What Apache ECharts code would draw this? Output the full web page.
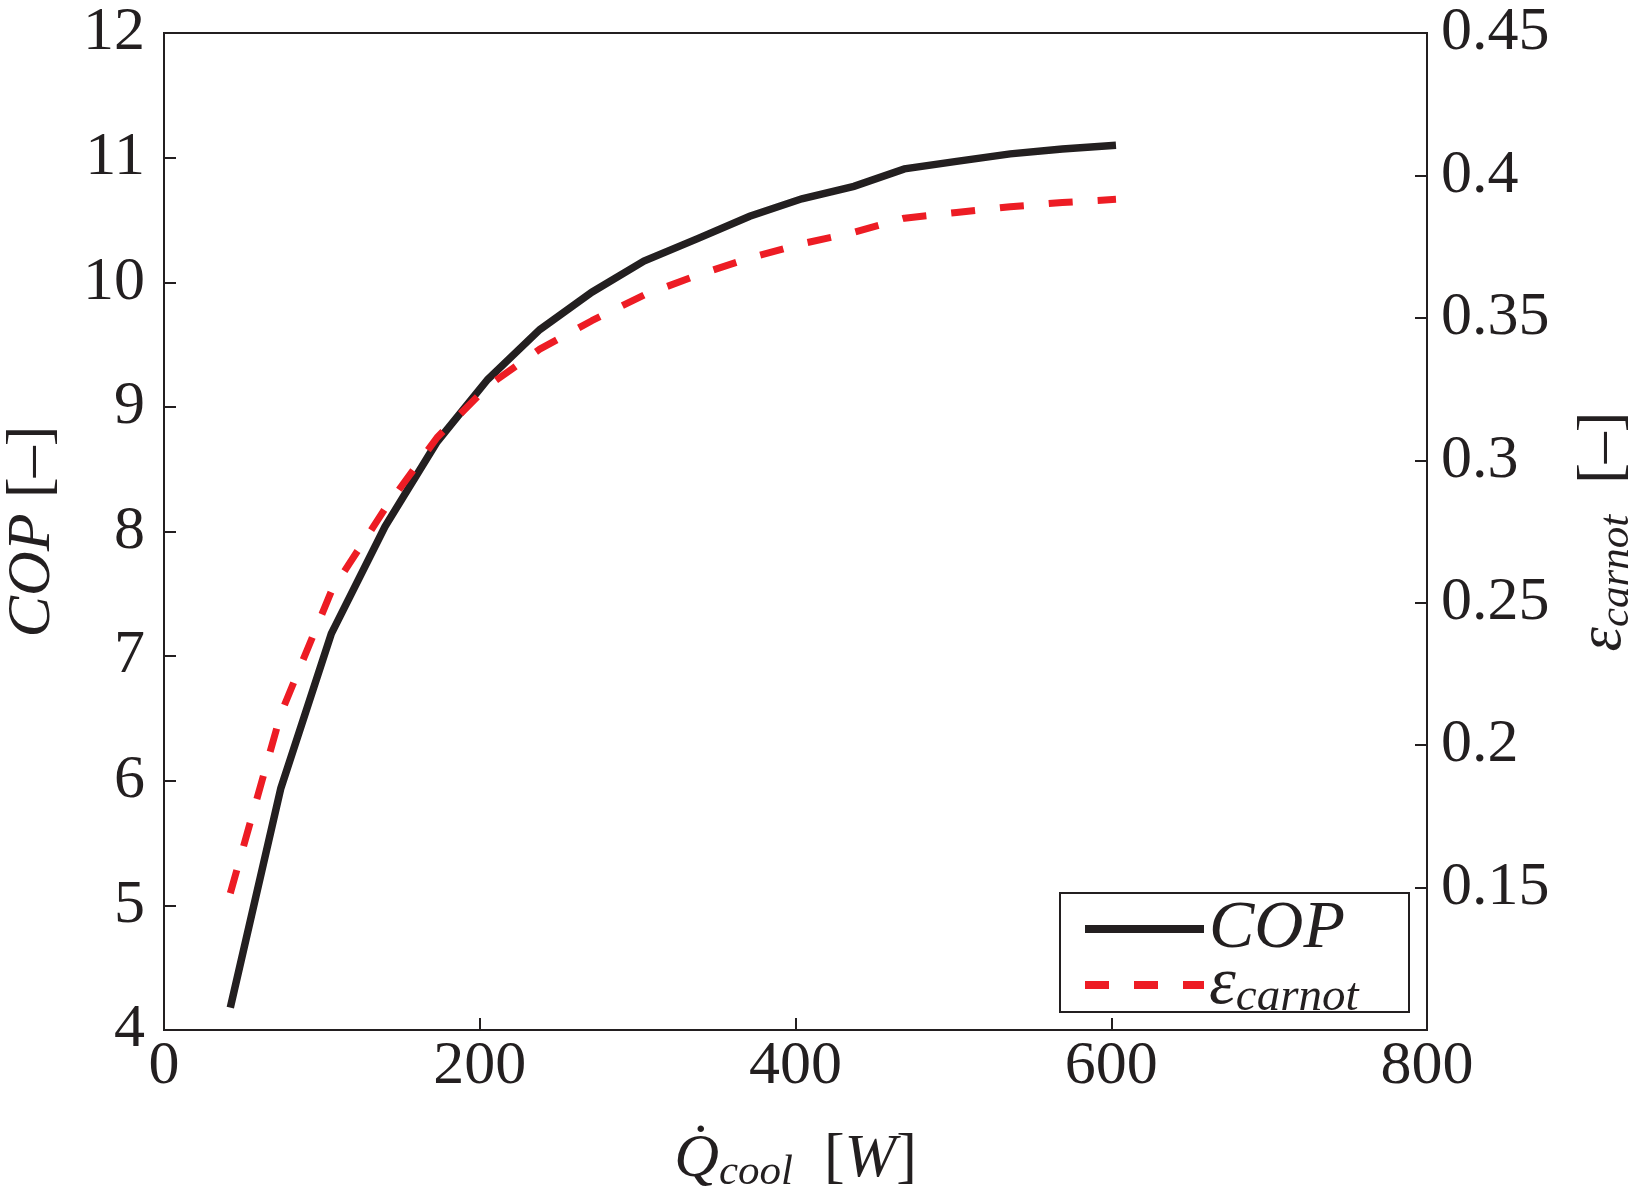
<!DOCTYPE html>
<html>
<head>
<meta charset="utf-8">
<script src="https://cdn.jsdelivr.net/npm/echarts@6/dist/echarts.min.js"></script>
<style>
  html, body { margin: 0; padding: 0; background: #fff; }
  #chart { width: 1632px; height: 1190px; }
</style>
</head>
<body>
<div id="chart"></div>
<script>
// cooling power [W]
const qCool = [42, 74, 106, 140, 173, 205, 238, 271, 304, 338, 371, 404, 437, 469, 502, 536, 569, 603];
const cop = [4.18, 5.94, 7.18, 8.04, 8.72, 9.22, 9.62, 9.92, 10.17, 10.35, 10.53, 10.67, 10.77, 10.91, 10.97, 11.03, 11.07, 11.10];
const epsCarnot = [0.148, 0.211, 0.254, 0.283, 0.308, 0.326, 0.339, 0.349, 0.358, 0.365, 0.371, 0.376, 0.380, 0.385, 0.387, 0.389, 0.3905, 0.3916];

const font = '"Liberation Serif", "DejaVu Serif", serif';
const ink = '#231f20';
const red = '#ed1c24';

const richText = {
  i: { fontFamily: font, fontStyle: 'italic', fontSize: 62, color: ink },
  n: { fontFamily: font, fontSize: 62, color: ink },
  s: { fontFamily: font, fontStyle: 'italic', fontSize: 43, color: ink, padding: [26, 0, 0, 0] },
};

// legend text is set a bit bigger than the axis texts
const legendRich = {
  i: { fontFamily: font, fontStyle: 'italic', fontSize: 68, color: ink },
  s: { fontFamily: font, fontStyle: 'italic', fontSize: 47, color: ink, padding: [26, 0, 0, 0] },
};

const axisText = {
  fontFamily: font,
  fontSize: 62,
  color: ink,
};

const chart = echarts.init(document.getElementById('chart'));
chart.setOption({
  animation: false,
  backgroundColor: '#fff',
  grid: {
    left: 164,
    right: 205,
    top: 33,
    bottom: 160,
    containLabel: false,
    outerBoundsMode: 'none',
    show: true,
    borderColor: ink,
    borderWidth: 2,
  },
  xAxis: {
    type: 'value',
    min: 0,
    max: 800,
    interval: 200,
    splitLine: { show: false },
    axisLine: { lineStyle: { color: ink, width: 2 } },
    axisTick: { inside: true, length: 12, lineStyle: { color: ink, width: 2 } },
    axisLabel: Object.assign({ margin: 6 }, axisText),
    name: '{i|Q\u0307}{s|cool}{n|  [}{i|W}{n|]}',
    nameLocation: 'middle',
    nameGap: 95,
    nameTextStyle: { rich: richText },
  },
  yAxis: [{
    type: 'value',
    min: 4,
    max: 12,
    interval: 1,
    position: 'left',
    splitLine: { show: false },
    axisLine: { lineStyle: { color: ink, width: 2 } },
    axisTick: { inside: true, length: 12, lineStyle: { color: ink, width: 2 } },
    axisLabel: Object.assign({ margin: 19 }, axisText),
    name: '{i|COP}{n| [\u2013]}',
    nameLocation: 'middle',
    nameRotate: 90,
    nameGap: 100,
    nameTextStyle: { rich: richText },
  }, {
    type: 'value',
    min: 0.1,
    max: 0.45,
    interval: 0.05,
    position: 'right',
    splitLine: { show: false },
    axisLine: { lineStyle: { color: ink, width: 2 } },
    axisTick: { inside: true, length: 12, lineStyle: { color: ink, width: 2 } },
    axisLabel: Object.assign({
      margin: 14,
      showMinLabel: false,
      formatter: v => String(+v.toFixed(2)),
    }, axisText),
    name: '{i|\u03b5}{s|carnot}{n|  [\u2013]}',
    nameLocation: 'middle',
    nameRotate: 90,
    nameGap: 142,
    nameTextStyle: { rich: richText },
  }],
  legend: {
    left: 1081,
    top: 895,
    orient: 'vertical',
    itemWidth: 119,
    itemHeight: 55,
    itemGap: -12,
    padding: 0,
    z: 10,
    data: ['COP', 'eps'],
    itemStyle: { color: 'rgba(0,0,0,0)', borderWidth: 0 },
    lineStyle: { width: 8 },
    formatter: name => name === 'COP' ? '{i|COP}' : '{i|\u03b5}{s|carnot}',
    textStyle: { rich: legendRich },
  },
  graphic: [{
    type: 'rect',
    left: 1059,
    top: 892,
    shape: { width: 349, height: 119 },
    style: { fill: '#fff', stroke: ink, lineWidth: 2 },
    z: 1,
  }],
  series: [{
    name: 'COP',
    type: 'line',
    yAxisIndex: 0,
    symbol: 'none',
    data: qCool.map((q, i) => [q, cop[i]]),
    lineStyle: { color: ink, width: 7.5, join: 'miter' },
    itemStyle: { color: ink },
  }, {
    name: 'eps',
    type: 'line',
    yAxisIndex: 1,
    symbol: 'none',
    data: qCool.map((q, i) => [q, epsCarnot[i]]),
    lineStyle: { color: red, width: 7, type: [24, 25] },
    itemStyle: { color: red },
  }],
});
</script>
</body>
</html>
